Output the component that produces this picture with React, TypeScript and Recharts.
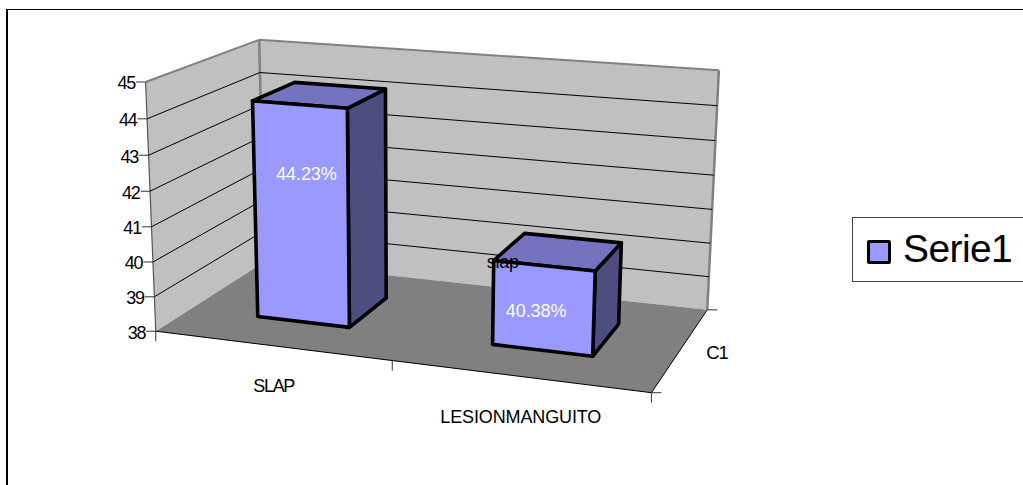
import { BarChart, Bar, XAxis, YAxis, CartesianGrid, Legend, LabelList } from 'recharts';

const categories = ['SLAP', 'LESIONMANGUITO'];
const seriesValues = [44.23, 40.38];
const barNotes = ['', 'slap'];
const valueTicks = [38, 39, 40, 41, 42, 43, 44, 45];
const seriesName = 'Serie1';
const depthLabel = 'C1';

const chartData = categories.map((name, i) => ({ name, value: seriesValues[i], note: barNotes[i] }));

const WIDTH = 1023;
const HEIGHT = 485;
const FONT = '"Liberation Sans", Arial, sans-serif';

// flat plot rectangle recharts lays out, each point is then pushed through the box projection
const PLOT = { left: 40, top: 10, width: 973, height: 435 };
const DEPTH_FRONT = 0.3;
const DEPTH_BACK = 0.7;

// box reference points as [u, v, depth, screenX, screenY]
const BOX_POINTS = [
  [0, 0, 0, 157, 332],
  [1, 0, 0, 651, 393],
  [0, 1, 0, 145, 82],
  [1, 1, 0, 662, 120],
  [0, 0, 1, 263, 261],
  [1, 0, 1, 708, 309],
  [0, 1, 1, 260, 40],
  [1, 1, 1, 719, 70],
  [1, 6 / 7, 1, 717, 107],
  [1, 3 / 7, 1, 712, 210],
  [0, 6 / 7, 0, 147, 118],
  [0, 4 / 7, 0, 150, 192],
];

function solve(a: number[][], b: number[]) {
  const n = b.length;
  const m = a.map((row, i) => [...row, b[i]]);
  for (let c = 0; c < n; c++) {
    let pivot = c;
    for (let r = c + 1; r < n; r++) if (Math.abs(m[r][c]) > Math.abs(m[pivot][c])) pivot = r;
    [m[c], m[pivot]] = [m[pivot], m[c]];
    for (let r = 0; r < n; r++) {
      if (r === c) continue;
      const f = m[r][c] / m[c][c];
      for (let k = c; k <= n; k++) m[r][k] -= f * m[c][k];
    }
  }
  return m.map((row, i) => row[n] / row[i]);
}

// least squares fit of a 3x4 camera matrix to the box points
function fitCamera() {
  const rows: number[][] = [];
  const rhs: number[] = [];
  BOX_POINTS.forEach(([u, v, d, x, y]) => {
    rows.push([u, v, d, 1, 0, 0, 0, 0, -x * u, -x * v, -x * d]);
    rhs.push(x);
    rows.push([0, 0, 0, 0, u, v, d, 1, -y * u, -y * v, -y * d]);
    rhs.push(y);
  });
  const size = 11;
  const ata = Array.from({ length: size }, (_, i) =>
    Array.from({ length: size }, (_, j) => rows.reduce((s, r) => s + r[i] * r[j], 0))
  );
  const atb = Array.from({ length: size }, (_, i) => rows.reduce((s, r, k) => s + r[i] * rhs[k], 0));
  return solve(ata, atb);
}

const cam = fitCamera();

function project(u: number, v: number, d: number): [number, number] {
  const w = cam[8] * u + cam[9] * v + cam[10] * d + 1;
  return [
    (cam[0] * u + cam[1] * v + cam[2] * d + cam[3]) / w,
    (cam[4] * u + cam[5] * v + cam[6] * d + cam[7]) / w,
  ];
}

const toU = (x: number) => (x - PLOT.left) / PLOT.width;
const toV = (y: number) => (PLOT.top + PLOT.height - y) / PLOT.height;
const pts = (list: [number, number][]) => list.map(p => p.join(',')).join(' ');

function Edge({ a, b, stroke = '#000', w = 1 }: { a: [number, number]; b: [number, number]; stroke?: string; w?: number }) {
  return <line x1={a[0]} y1={a[1]} x2={b[0]} y2={b[1]} stroke={stroke} strokeWidth={w} />;
}

// walls, floor, chart frame and the depth axis sit in their own svg under the chart
function Room() {
  const fl = project(0, 0, 0), fr = project(1, 0, 0), bl = project(0, 0, 1), br = project(1, 0, 1);
  const tfl = project(0, 1, 0), tbl = project(0, 1, 1), tbr = project(1, 1, 1);
  const mid = project(0.5, 0, 0);
  return (
    <svg width={WIDTH} height={HEIGHT} style={{ position: 'absolute', left: 0, top: 0 }}>
      <line x1={7.5} y1={9.5} x2={WIDTH} y2={9.5} stroke="#000" />
      <line x1={7} y1={9} x2={7} y2={HEIGHT} stroke="#000" strokeWidth={2} />
      <polygon points={pts([fl, bl, tbl, tfl])} fill="#c0c0c0" />
      <polygon points={pts([bl, br, tbr, tbl])} fill="#c0c0c0" />
      <polygon points={pts([fl, fr, br, bl])} fill="#808080" />
      <Edge a={tfl} b={tbl} stroke="#808080" w={2} />
      <Edge a={tbl} b={tbr} stroke="#808080" w={2} />
      <Edge a={tbl} b={bl} stroke="#808080" w={2.5} />
      <Edge a={tbr} b={br} stroke="#808080" w={2.5} />
      <Edge a={tfl} b={fl} stroke="#555" w={1.2} />
      <Edge a={fl} b={fr} />
      <Edge a={fr} b={br} />
      {[fl, mid, fr].map((p, i) => (
        <Edge key={i} a={p} b={[p[0], p[1] + 10]} stroke="#333" />
      ))}
      <Edge a={fr} b={[fr[0] + 10, fr[1]]} stroke="#333" />
      <Edge a={br} b={[br[0] + 10, br[1]]} stroke="#333" />
      <text x={717} y={353} dy="0.35em" textAnchor="middle" fontFamily={FONT} fontSize={18.5} letterSpacing={-1} fill="#000">
        {depthLabel}
      </text>
    </svg>
  );
}

// grid lines fold from the left wall on to the back wall
function WallLine(props: any) {
  const v = toV(props.y1);
  if (v < 0.01 || v > 0.99) return <g key={props.key} />;
  return (
    <polyline
      key={props.key}
      points={pts([project(0, v, 0), project(0, v, 1), project(1, v, 1)])}
      fill="none"
      stroke="#000"
      strokeWidth={1}
    />
  );
}

function Column(props: any) {
  const { x, y, width, height } = props;
  const u0 = toU(x), u1 = toU(x + width), v0 = toV(y + height), v1 = toV(y);
  const a = DEPTH_FRONT, b = DEPTH_BACK;
  const frontFace = [project(u0, v0, a), project(u1, v0, a), project(u1, v1, a), project(u0, v1, a)];
  const sideFace = [project(u1, v0, a), project(u1, v0, b), project(u1, v1, b), project(u1, v1, a)];
  const topFace = [project(u0, v1, a), project(u1, v1, a), project(u1, v1, b), project(u0, v1, b)];
  return (
    <g stroke="#000" strokeWidth={3.6} strokeLinejoin="round">
      <polygon points={pts(sideFace)} fill="#4d4d80" />
      <polygon points={pts(topFace)} fill="#7373bf" />
      <polygon points={pts(frontFace)} fill="#9999ff" />
    </g>
  );
}

const VALUE_LABEL_SHIFT = [[5, -41], [-7, 2]];

function ValueLabel(props: any) {
  const { x, y, width, height, index, value } = props;
  const p = project(toU(x + width / 2), toV(y + height / 2), DEPTH_FRONT);
  const [dx, dy] = VALUE_LABEL_SHIFT[index];
  return (
    <text x={p[0] + dx} y={p[1] + dy} dy="0.35em" textAnchor="middle" fontFamily={FONT} fontSize={18} letterSpacing={-0.1} fill="#fff">
      {Number(value).toFixed(2)}%
    </text>
  );
}

function NoteLabel(props: any) {
  const { x, y, value } = props;
  if (!value) return null;
  const p = project(toU(x), toV(y), DEPTH_FRONT);
  return (
    <text x={p[0] + 9} y={p[1] + 1} dy="0.35em" textAnchor="middle" fontFamily={FONT} fontSize={18} letterSpacing={-0.3} fill="#000">
      {value}
    </text>
  );
}

function ValueTick(props: any) {
  const { y, payload } = props;
  const p = project(0, toV(y), 0);
  return (
    <g>
      <line x1={p[0] - 9.5} y1={p[1]} x2={p[0]} y2={p[1]} stroke="#333" />
      <text x={p[0] - 10.5} y={p[1] + 1} dy="0.35em" textAnchor="end" fontFamily={FONT} fontSize={18} letterSpacing={-1.2} fill="#000">
        {payload.value}
      </text>
    </g>
  );
}

const CATEGORY_TEXT_WIDTH = [42, 161];
const CATEGORY_TEXT_SHIFT = [3, 2];

function CategoryTick(props: any) {
  const { x, index, payload } = props;
  const p = project(toU(x), 0, 0);
  return (
    <text
      x={p[0] + CATEGORY_TEXT_SHIFT[index]}
      y={p[1] + 40}
      dy="0.35em"
      textAnchor="middle"
      fontFamily={FONT}
      fontSize={18}
      textLength={CATEGORY_TEXT_WIDTH[index]}
      lengthAdjust="spacing"
      fill="#000"
    >
      {payload.value}
    </text>
  );
}

function LegendBox({ payload }: any) {
  return (
    <div
      style={{
        boxSizing: 'border-box',
        width: 171,
        height: 65,
        border: '1px solid #444',
        borderRight: 'none',
        background: '#fff',
        position: 'relative',
      }}
    >
      {(payload || []).map((entry: any) => (
        <div key={entry.value}>
          <span
            style={{
              position: 'absolute',
              left: 14,
              top: 22,
              width: 24,
              height: 24,
              boxSizing: 'border-box',
              border: '3px solid #000',
              borderRadius: 2,
              background: '#9999ff',
            }}
          />
          <span
            style={{
              position: 'absolute',
              left: 50,
              top: 8,
              fontFamily: FONT,
              fontSize: 39,
              lineHeight: '46px',
              letterSpacing: -0.6,
              color: '#000',
            }}
          >
            {entry.value}
          </span>
        </div>
      ))}
    </div>
  );
}

export default function App() {
  return (
    <div style={{ position: 'absolute', left: 0, top: 0, width: WIDTH, height: HEIGHT }}>
      <Room />
      <div style={{ position: 'absolute', left: 0, top: 0 }}>
        <BarChart
          width={WIDTH}
          height={HEIGHT}
          data={chartData}
          margin={{ top: PLOT.top, right: 10, bottom: 0, left: 0 }}
          barCategoryGap="30%"
        >
          <CartesianGrid vertical={false} horizontal={WallLine} />
          <XAxis dataKey="name" height={40} axisLine={false} tickLine={false} tick={CategoryTick} interval={0} />
          <YAxis width={40} domain={[38, 45]} ticks={valueTicks} axisLine={false} tickLine={false} tick={ValueTick} />
          <Legend
            layout="vertical"
            align="center"
            verticalAlign="middle"
            wrapperStyle={{ left: 852, top: 217, width: 171, height: 65 }}
            content={LegendBox}
          />
          <Bar dataKey="value" name={seriesName} fill="#9999ff" shape={Column} isAnimationActive={false}>
            <LabelList dataKey="value" content={ValueLabel} />
            <LabelList dataKey="note" content={NoteLabel} />
          </Bar>
        </BarChart>
      </div>
    </div>
  );
}
